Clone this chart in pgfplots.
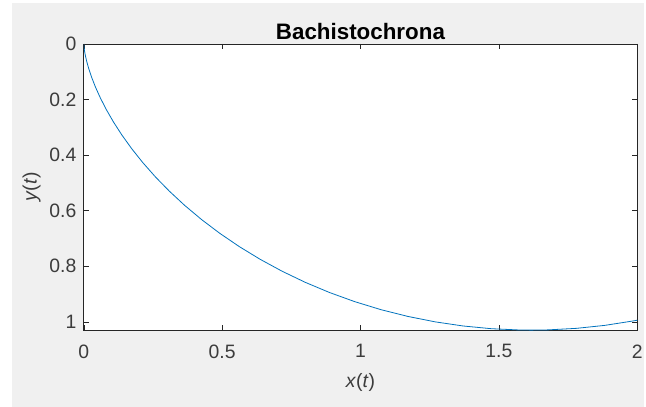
\documentclass[border=0pt]{standalone}
\usepackage{pgfplots}
\pgfplotsset{compat=1.18}
\usepackage{fontspec}
\setmainfont{Liberation Sans}
\definecolor{mbg}{HTML}{F0F0F0}
\definecolor{mline}{HTML}{0072BD}
\definecolor{maxis}{HTML}{262626}
\begin{document}
\begin{tikzpicture}[x=1bp,y=1bp]
\path[fill=white] (0,0) rectangle (646,408);
\fill[mbg] (12,0) rectangle (646,405);
\begin{axis}[
  at={(84bp,77bp)}, anchor=south west,
  scale only axis, width=555bp, height=287bp,
  xmin=0, xmax=2, ymin=0, ymax=1.03,
  y dir=reverse,
  axis background/.style={fill=white},
  axis line style={draw=maxis, line width=0.6pt},
  tick style={draw=maxis, line width=0.5pt},
  major tick length=5bp,
  tick align=inside,
  xtick={0,0.5,1,1.5,2},
  ytick={0,0.2,0.4,0.6,0.8,1},
  /pgf/number format/assume math mode=true,
  ticklabel style={font=\fontsize{19.5}{22}\selectfont, text=maxis!90},
  xticklabel style={yshift=-11bp},
  yticklabel style={xshift=-4bp},
  title={\textbf{Bachistochrona}},
  title style={font=\fontsize{22.5}{24}\selectfont, yshift=-5bp},
  xlabel={\textit{x}(\textit{t})},
  ylabel={\textit{y}(\textit{t})},
  label style={font=\fontsize{19.5}{22}\selectfont, text=maxis!90},
  xlabel style={yshift=-8bp},
  ylabel style={yshift=2bp},
]
\addplot[color=mline, line width=0.8pt] coordinates {
(0,0) (0.0000107,0.000644) (0.0000858,0.002573) (0.000686,0.010266)
(0.002307,0.023002) (0.00545,0.040654) (0.010596,0.063045)
(0.018209,0.089952) (0.028728,0.121106) (0.042562,0.156196)
(0.060087,0.194871) (0.081642,0.236744) (0.107528,0.281398)
(0.138,0.328386) (0.173268,0.377238) (0.213493,0.427467)
(0.25879,0.47857) (0.309219,0.530037) (0.364793,0.581355)
(0.425468,0.632009) (0.491156,0.681494) (0.561712,0.729316)
(0.636947,0.774996) (0.716625,0.818078) (0.800462,0.858132)
(0.888137,0.894758) (0.979287,0.927589) (1.073517,0.956298)
(1.170399,0.980597) (1.269481,1.000244) (1.370287,1.015043)
(1.472323,1.024846) (1.575086,1.029555) (1.6179,1.03)
(1.678063,1.029122) (1.78074,1.023552) (1.882604,1.012901)
(1.983153,0.997275) (2.0,0.9943)
};
\end{axis}
\end{tikzpicture}
\end{document}
